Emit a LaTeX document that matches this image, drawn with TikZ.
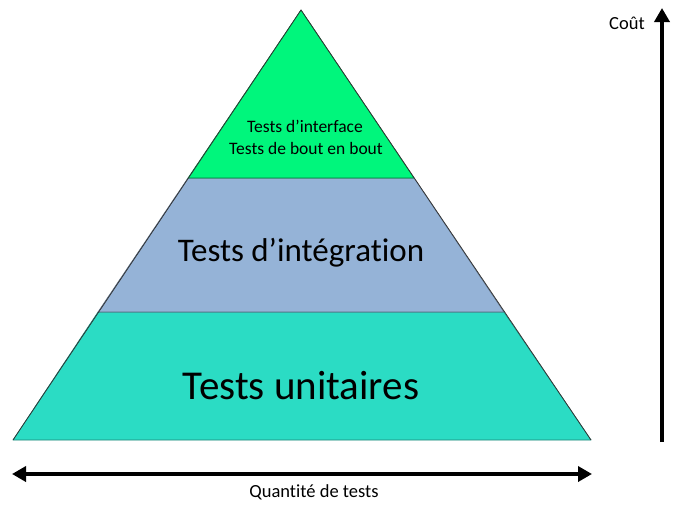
\documentclass[tikz,border=0pt]{standalone}
\usepackage{fontspec}
\setmainfont{Carlito}[Ligatures=NoCommon]
\usepackage{tikz}
\usetikzlibrary{arrows.meta}

\definecolor{hautvert}{RGB}{0,246,124}
\definecolor{milieubleu}{RGB}{149,179,215}
\definecolor{basturquoise}{RGB}{43,220,196}

\tikzset{
  couche/.style={line width=0.7pt, line join=round},
  fleche/.style={line width=3.5pt, -{Triangle[length=14pt,width=15pt]}},
  doublefleche/.style={line width=3.5pt, {Triangle[length=14pt,width=15pt]}-{Triangle[length=14pt,width=15pt]}}
}

\begin{document}
\begin{tikzpicture}[x=1pt,y=-1pt]
   \useasboundingbox (0,0) rectangle (685,506);

   % les trois couches de la pyramide
   \filldraw[couche, fill=basturquoise, draw=basturquoise!60!black] (13,440) -- (591,440) -- (504,312) -- (98,312) -- cycle;
   \filldraw[couche, fill=milieubleu, draw=milieubleu!60!black] (98,312) -- (504,312) -- (414,178) -- (188,178) -- cycle;
   \filldraw[couche, fill=hautvert, draw=hautvert!50!black] (188,178) -- (414,178) -- (301,10) -- cycle;
   \draw[line width=0.7pt, black!80] (13,440) -- (301,10) -- (591,440);

   \node (interface) at (305,126) {\fontsize{17.5}{21}\selectfont Tests d’interface};
   \node (boutenbout) at (306,148) {\fontsize{17.5}{21}\selectfont Tests de bout en bout};
   \node (integration) at (301,253) {\fontsize{33}{38}\selectfont Tests d’intégration};
   \node (unitaires) at (301,386) {\fontsize{41}{46}\selectfont Tests unitaires};

   % axes
   \coordinate (coutbas) at (662,442);
   \coordinate (couthaut) at (662,8);
   \draw[fleche] (coutbas) -- (couthaut);
   \node (cout) at (627,23) {\fontsize{18.5}{22}\selectfont Coût};

   \coordinate (qgauche) at (12,474);
   \coordinate (qdroite) at (592,474);
   \draw[doublefleche] (qgauche) -- (qdroite);
   \node (quantite) at (314,492) {\fontsize{18.5}{22}\selectfont Quantité de tests};
\end{tikzpicture}
\end{document}
